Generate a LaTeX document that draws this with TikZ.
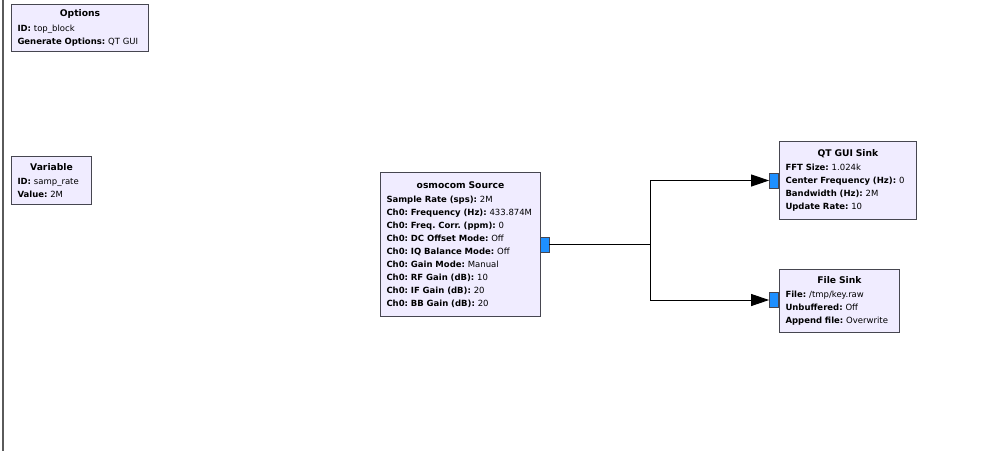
\documentclass[tikz,border=0pt]{standalone}
\usepackage{fontspec}
\setmainfont{DejaVu Sans}
\usetikzlibrary{arrows.meta, positioning, calc}
\definecolor{cBlk}{RGB}{240,236,255}
\definecolor{cEdge}{RGB}{70,70,80}
\definecolor{cPort}{RGB}{30,144,255}
\definecolor{cWin}{RGB}{90,90,90}
\newcommand{\ttl}[1]{\makebox[\hsize][c]{\fontsize{9.2}{13}\selectfont\textbf{#1}}\\[1.5pt]}
\newcommand{\fld}[2]{\textbf{#1:} #2}

\begin{document}
\frenchspacing
\begin{tikzpicture}[x=1pt, y=-1pt,
      blk/.style={draw=cEdge, fill=cBlk, line width=1pt, anchor=north west,
                  inner xsep=6pt, inner ysep=0pt, align=left,
                  font=\fontsize{8.5}{13}\selectfont},
      port/.style={draw=cEdge, fill=cPort, line width=0.8pt, inner sep=0pt,
                   minimum width=9pt, minimum height=15pt},
      wire/.style={line width=1pt},
      ar/.style={wire, -{Triangle[length=18pt, width=12pt]}}
    ]
    \useasboundingbox (0,0) rectangle (1003,451);
    % window edge
    \draw[cWin, line width=1.6pt] (3,0) -- (3,451);

    \node[blk, text width=125pt, minimum height=47pt] (opts) at (11,4)
      {\ttl{Options}\fld{ID}{top\_block}\\\fld{Generate Options}{QT GUI}};
    \node[blk, text width=68pt, minimum height=48pt] (var) at (11,156)
      {\ttl{Variable}\fld{ID}{samp\_rate}\\\fld{Value}{2M}};

    \node[blk, text width=148pt, minimum height=144pt] (src) at (380,172)
      {\ttl{osmocom Source}\fld{Sample Rate (sps)}{2M}\\
       \fld{Ch0: Frequency (Hz)}{433.874M}\\
       \fld{Ch0: Freq. Corr. (ppm)}{0}\\
       \fld{Ch0: DC Offset Mode}{Off}\\
       \fld{Ch0: IQ Balance Mode}{Off}\\
       \fld{Ch0: Gain Mode}{Manual}\\
       \fld{Ch0: RF Gain (dB)}{10}\\
       \fld{Ch0: IF Gain (dB)}{20}\\
       \fld{Ch0: BB Gain (dB)}{20}};

    \node[blk, text width=125pt, minimum height=78pt] (qt) at (779,141)
      {\ttl{QT GUI Sink}\fld{FFT Size}{1.024k}\\
       \fld{Center Frequency (Hz)}{0}\\
       \fld{Bandwidth (Hz)}{2M}\\
       \fld{Update Rate}{10}};
    \node[blk, text width=108pt, minimum height=63pt] (fsink) at (779,269)
      {\ttl{File Sink}\fld{File}{/tmp/key.raw}\\
       \fld{Unbuffered}{Off}\\
       \fld{Append file}{Overwrite}};

    % ports
    \node[port] (srcout) at (544.5,244.5) {};
    \node[port] (qtin) at (774,180.5) {};
    \node[port] (fsin) at (774,300) {};

    % connections
    \coordinate (split) at (650,244.5);
    \draw[wire] (srcout.east) -- (split);
    \draw[ar] (split) |- (qtin.west);
    \draw[ar] (split) |- (fsin.west);
  \end{tikzpicture}
\end{document}
